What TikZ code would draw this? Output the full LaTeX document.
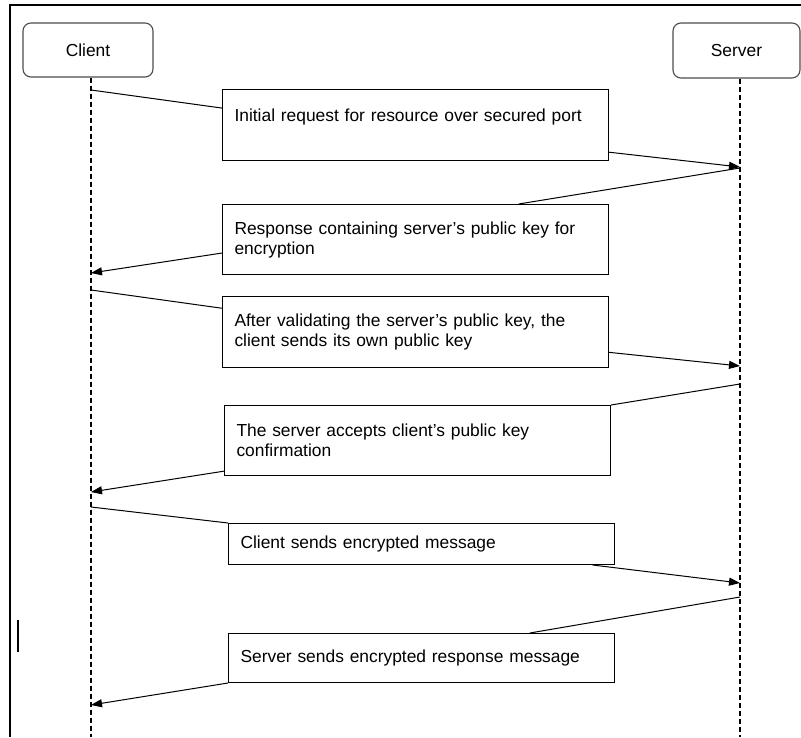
\documentclass[tikz,border=0pt]{standalone}
\usepackage{fontspec}
\setmainfont{Liberation Sans}
\usetikzlibrary{arrows.meta}

\begin{document}
\begin{tikzpicture}[x=1pt,y=-1pt,
    every node/.style={font=\fontsize{17.4}{20}\selectfont,text=black},
    actor/.style={draw=black!70,line width=1.1pt,rounded corners=8pt,inner sep=0pt},
    msg/.style={draw,line width=1pt,anchor=north west,align=left,
      text width=362pt,inner xsep=12pt,inner ysep=0pt},
    life/.style={line width=1.1pt,dash pattern=on 5pt off 3pt},
    call/.style={-{Triangle[length=11pt,width=8pt]}}]
  \useasboundingbox (0,0) rectangle (801,737);
  % frame
  \draw[line width=2.2pt] (10,737) -- (10,5) -- (801,5);
  \draw[line width=1.6pt] (18,620) -- (18,652);
  % actors
  \node[actor,minimum width=130pt,minimum height=54pt] (client) at (88,50) {Client};
  \node[actor,minimum width=127pt,minimum height=55pt] (server) at (736.5,50.5) {Server};
  \coordinate (cend) at (91,737);
  \coordinate (send) at (740,737);
  \draw[life] (cend |- client.south) -- (cend);
  \draw[life] (send |- server.south) -- (send);
  % messages
  \node[msg,minimum height=71pt] (m1) at (222,89)
    {Initial request for resource over secured port\\[-1pt] ~};
  \node[msg,minimum height=70pt] (m2) at (222,204)
    {Response containing server’s public key for\\ encryption};
  \node[msg,minimum height=71pt] (m3) at (222,296)
    {After validating the server’s public key, the\\ client sends its own public key};
  \node[msg,minimum height=70pt] (m4) at (224,405)
    {The server accepts client’s public key\\ confirmation};
  \node[msg,minimum height=41pt] (m5) at (228,523) {Client sends encrypted message};
  \node[msg,minimum height=49pt] (m6) at (228,633) {Server sends encrypted response message};
  % points on the lifelines
  \coordinate (c1) at (91,90);
  \coordinate (c2) at (91,273);
  \coordinate (c3) at (91,290);
  \coordinate (c4) at (91,492);
  \coordinate (c5) at (91,507);
  \coordinate (c6) at (91,705);
  \coordinate (s1) at (740,167);
  \coordinate (s2) at (740,168);
  \coordinate (s3) at (740,366);
  \coordinate (s4) at (740,384);
  \coordinate (s5) at (740,583);
  \coordinate (s6) at (740,597);
  \begin{scope}[line width=1pt]
    \draw (c1) -- (m1.175);
    \draw[call] (m1.352) -- (s1);
    \draw (s2) -- (m2.19);
    \draw[call] (m2.184) -- (c2);
    \draw (c3) -- (m3.173);
    \draw[call] (m3.354) -- (s3);
    \draw (s4) -- (m4.north east);
    \draw[call] (m4.189) -- (c4);
    \draw (c5) -- (m5.north west);
    \draw[call] (m5.353) -- (s5);
    \draw (s6) -- (m6.13);
    \draw[call] (m6.south west) -- (c6);
  \end{scope}
\end{tikzpicture}
\end{document}
